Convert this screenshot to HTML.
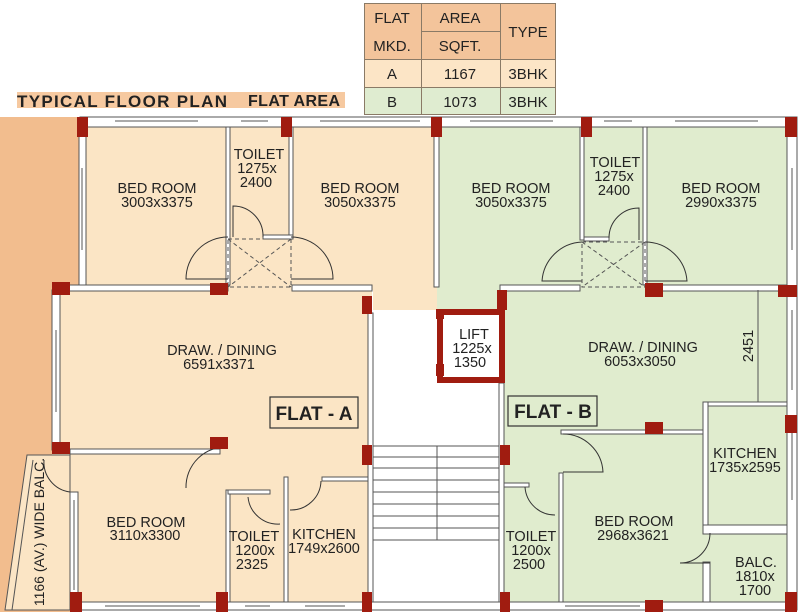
<!DOCTYPE html>
<html><head><meta charset="utf-8"><style>
html,body{margin:0;padding:0;background:#fff;}
svg{display:block;}
text{font-family:"Liberation Sans",sans-serif;fill:#222;}
</style></head><body>
<svg width="800" height="612" viewBox="0 0 800 612" xmlns="http://www.w3.org/2000/svg">
<rect x="0" y="117" width="80" height="495" fill="#f2bd8e"/>
<rect x="17" y="92" width="328" height="16" fill="#f6c9a0"/>
<text x="17" y="107" font-size="17" font-weight="bold" textLength="210">TYPICAL FLOOR PLAN</text>
<text x="248" y="106" font-size="16" font-weight="bold" textLength="92">FLAT AREA</text>
<rect x="364" y="3" width="192" height="56" fill="#f3c49b"/>
<rect x="364" y="59" width="192" height="28" fill="#fce5c6"/>
<rect x="364" y="87" width="192" height="28" fill="#dfecd0"/>
<g stroke="#8a7a66" stroke-width="1" fill="none">
<rect x="364.5" y="3.5" width="191" height="111"/>
<line x1="364" y1="59.5" x2="556" y2="59.5"/>
<line x1="364" y1="87.5" x2="556" y2="87.5"/>
<line x1="421" y1="31.5" x2="500" y2="31.5"/>
<line x1="421.5" y1="3" x2="421.5" y2="115"/>
<line x1="500.5" y1="3" x2="500.5" y2="115"/>
</g>
<g font-size="15" text-anchor="middle">
<text x="392" y="23">FLAT</text><text x="392" y="51">MKD.</text>
<text x="460" y="23">AREA</text><text x="460" y="51">SQFT.</text>
<text x="528" y="37">TYPE</text>
<text x="392" y="79">A</text><text x="460" y="79">1167</text><text x="528" y="79">3BHK</text>
<text x="392" y="107">B</text><text x="460" y="107">1073</text><text x="528" y="107">3BHK</text>
</g>
<polygon points="80,120 437,120 437,290 372,290 372,608 70,608 70,455 52,455 52,290 80,290" fill="#fbe5c5"/>
<polygon points="27,455 70,455 70,610 5,610" fill="#fbe5c5" stroke="#555" stroke-width="1"/>
<line x1="33" y1="460" x2="12" y2="610" stroke="#555"/>
<polygon points="437,120 797,120 797,608 500,608 500,310 437,310" fill="#e0ecce"/>
<rect x="373" y="290" width="64" height="20" fill="#fbe5c5"/>
<rect x="373" y="310" width="127" height="300" fill="#fff"/>
<g stroke="#555" stroke-width="1">
<line x1="373" y1="446" x2="500" y2="446"/><line x1="373" y1="457" x2="500" y2="457"/>
<line x1="373" y1="468" x2="500" y2="468"/><line x1="373" y1="480" x2="500" y2="480"/>
<line x1="373" y1="492" x2="500" y2="492"/><line x1="373" y1="504" x2="500" y2="504"/>
<line x1="373" y1="516" x2="500" y2="516"/><line x1="373" y1="528" x2="500" y2="528"/>
<line x1="373" y1="540" x2="500" y2="540"/>
<line x1="437" y1="446" x2="437" y2="540"/>
</g>
<g fill="#fff" stroke="#555" stroke-width="1">
<rect x="80" y="117" width="717" height="10"/>
<rect x="79" y="127" width="7" height="160"/>
<rect x="52" y="290" width="8" height="160"/>
<rect x="60" y="285" width="168" height="6"/>
<rect x="292" y="285" width="80" height="6"/>
<rect x="226" y="127" width="4" height="158"/>
<rect x="289" y="127" width="4" height="110"/>
<rect x="263" y="235" width="30" height="4"/>
<rect x="434" y="127" width="5" height="160"/>
<rect x="580" y="127" width="4" height="113"/>
<rect x="643" y="127" width="4" height="158"/>
<rect x="584" y="237" width="25" height="4"/>
<rect x="500" y="285" width="80" height="6"/>
<rect x="647" y="285" width="140" height="6"/>
<rect x="787" y="127" width="10" height="480"/>
<rect x="368" y="313" width="5" height="295"/>
<rect x="499" y="383" width="5" height="225"/>
<rect x="70" y="449" width="150" height="5"/>
<rect x="70" y="492" width="8" height="110"/>
<rect x="226" y="490" width="4" height="112"/>
<rect x="228" y="490" width="42" height="4"/>
<rect x="284" y="477" width="4" height="125"/>
<rect x="322" y="477" width="46" height="4"/>
<rect x="70" y="602" width="727" height="8"/>
<rect x="561" y="430" width="142" height="4"/>
<rect x="703" y="402" width="5" height="125"/>
<rect x="708" y="402" width="79" height="4"/>
<rect x="703" y="525" width="84" height="9"/>
<rect x="703" y="562" width="7" height="40"/>
<rect x="559" y="473" width="4" height="129"/>
<rect x="504" y="483" width="25" height="4"/>
</g>
<g stroke="#555" stroke-width="1">
<line x1="115" y1="121" x2="198" y2="121"/><line x1="241" y1="121" x2="268" y2="121"/>
<line x1="320" y1="121" x2="420" y2="121"/><line x1="470" y1="121" x2="553" y2="121"/>
<line x1="604" y1="121" x2="632" y2="121"/><line x1="675" y1="121" x2="758" y2="121"/>
<line x1="82" y1="168" x2="82" y2="250"/><line x1="56" y1="330" x2="56" y2="412"/>
<line x1="74" y1="500" x2="74" y2="590"/><line x1="792" y1="168" x2="792" y2="250"/>
<line x1="792" y1="310" x2="792" y2="390"/><line x1="792" y1="430" x2="792" y2="500"/>
<line x1="105" y1="606" x2="200" y2="606"/><line x1="245" y1="606" x2="270" y2="606"/>
<line x1="305" y1="606" x2="345" y2="606"/><line x1="565" y1="606" x2="640" y2="606"/>
<line x1="758" y1="290" x2="758" y2="402"/>
</g>
<g fill="none" stroke="#333" stroke-width="1">
<path d="M228,237 A42,42 0 0 0 186,279 L228,279"/>
<path d="M291,237 A42,42 0 0 1 333,279 L291,279"/>
<path d="M233,237 L233,206 A30,30 0 0 1 263,237"/>
<path d="M582,242 A42,42 0 0 0 542,281 L582,281"/>
<path d="M645,242 A42,42 0 0 1 687,281 L645,281"/>
<path d="M609,238 A30,30 0 0 1 639,208 L639,240"/>
<path d="M228,447 A40,40 0 0 0 186,488"/>
<path d="M44,460 A30,30 0 0 0 70,492"/>
<path d="M248,497 A30,30 0 0 0 280,524"/>
<path d="M321,481 A30,30 0 0 1 290,510"/>
<path d="M563,434 A40,40 0 0 1 603,472 L563,472"/>
<path d="M525,487 A30,30 0 0 0 555,515"/>
<path d="M710,533 A30,30 0 0 1 680,563 L710,563"/>
</g>
<g fill="none" stroke="#555" stroke-dasharray="4,3">
<rect x="228" y="239" width="63" height="48"/><line x1="228" y1="239" x2="291" y2="287"/><line x1="291" y1="239" x2="228" y2="287"/>
<rect x="582" y="242" width="63" height="45"/><line x1="582" y1="242" x2="645" y2="287"/><line x1="645" y1="242" x2="582" y2="287"/>
</g>
<rect x="440" y="312" width="62" height="68" fill="#fff" stroke="#a01c10" stroke-width="6"/>
<rect x="436" y="309" width="8" height="10" fill="#a01c10"/><rect x="436" y="364" width="8" height="12" fill="#a01c10"/>
<g fill="#a01c10">
<rect x="77" y="117" width="11" height="20"/><rect x="281" y="117" width="11" height="20"/>
<rect x="431" y="117" width="11" height="20"/><rect x="581" y="117" width="11" height="20"/>
<rect x="785" y="117" width="12" height="20"/>
<rect x="52" y="282" width="18" height="13"/><rect x="210" y="283" width="18" height="12"/>
<rect x="362" y="296" width="10" height="18"/><rect x="645" y="283" width="18" height="14"/>
<rect x="778" y="285" width="19" height="12"/><rect x="497" y="290" width="10" height="20"/>
<rect x="52" y="442" width="18" height="12"/><rect x="210" y="437" width="18" height="12"/>
<rect x="362" y="445" width="10" height="20"/><rect x="500" y="445" width="10" height="20"/>
<rect x="645" y="422" width="18" height="12"/><rect x="785" y="415" width="12" height="18"/>
<rect x="70" y="592" width="12" height="20"/><rect x="216" y="592" width="12" height="20"/>
<rect x="362" y="592" width="10" height="20"/><rect x="500" y="592" width="10" height="20"/>
<rect x="645" y="600" width="18" height="12"/><rect x="785" y="592" width="12" height="20"/>
</g>
<g font-size="14.5" text-anchor="middle">
<text x="157" y="193">BED ROOM</text><text x="157" y="207">3003x3375</text>
<text x="259" y="159">TOILET</text><text x="257" y="173">1275x</text><text x="256" y="187">2400</text>
<text x="360" y="193">BED ROOM</text><text x="360" y="207">3050x3375</text>
<text x="511" y="193">BED ROOM</text><text x="511" y="207">3050x3375</text>
<text x="615" y="167">TOILET</text><text x="614" y="181">1275x</text><text x="614" y="195">2400</text>
<text x="721" y="193">BED ROOM</text><text x="721" y="207">2990x3375</text>
<text x="222" y="355">DRAW. / DINING</text><text x="219" y="369">6591x3371</text>
<text x="474" y="339">LIFT</text><text x="472" y="353">1225x</text><text x="470" y="367">1350</text>
<text x="643" y="352">DRAW. / DINING</text><text x="640" y="366">6053x3050</text>
<text x="146" y="527">BED ROOM</text><text x="145" y="540">3110x3300</text>
<text x="254" y="541">TOILET</text><text x="255" y="555">1200x</text><text x="252" y="569">2325</text>
<text x="324" y="539">KITCHEN</text><text x="324" y="553">1749x2600</text>
<text x="745" y="458">KITCHEN</text><text x="745" y="472">1735x2595</text>
<text x="634" y="526">BED ROOM</text><text x="633" y="540">2968x3621</text>
<text x="531" y="541">TOILET</text><text x="531" y="555">1200x</text><text x="529" y="569">2500</text>
<text x="756" y="567">BALC.</text><text x="755" y="581">1810x</text><text x="755" y="595">1700</text>
</g>
<text font-size="14.5" text-anchor="middle" transform="translate(753,346) rotate(-90)">2451</text>
<text font-size="14" text-anchor="middle" transform="translate(44,532) rotate(-90)">1166 (AV.) WIDE BALC.</text>
<rect x="270" y="397" width="88" height="31" fill="none" stroke="#333" stroke-width="1.2"/>
<text x="314" y="420" font-size="19" font-weight="bold" text-anchor="middle">FLAT - A</text>
<rect x="508" y="396" width="89" height="30" fill="none" stroke="#333" stroke-width="1.2"/>
<text x="553" y="418" font-size="19" font-weight="bold" text-anchor="middle">FLAT - B</text>
</svg>
</body></html>
